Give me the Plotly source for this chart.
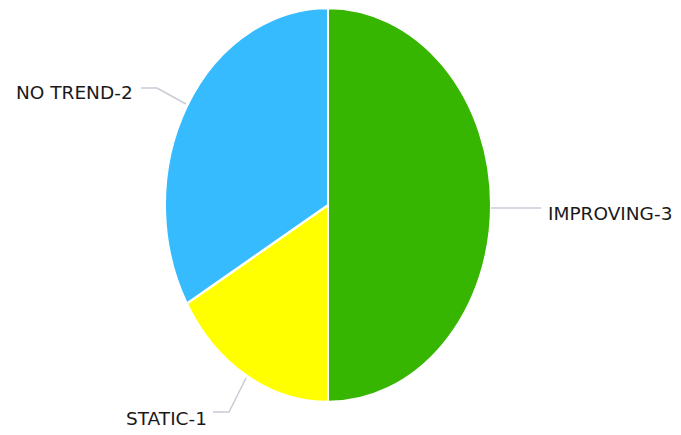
import plotly.graph_objects as go

W, H = 681, 435

labels = ["IMPROVING", "STATIC", "NO TREND"]
counts = [3, 1, 2]
colors = ["#36b600", "#ffff00", "#36bbff"]

# pie geometry in pixels (reference is stretched vertically)
CX, CY, RX, RY = 328, 205, 163, 197


def px(x):
    return x / W


def py(y):
    return 1 - y / H


fig = go.Figure(
    go.Pie(
        labels=labels,
        values=counts,
        sort=False,
        direction="clockwise",
        rotation=0,
        textinfo="none",
        hoverinfo="label+value",
        marker={"colors": colors, "line": {"color": "#ffffff", "width": 2}},
        domain={"x": [px(CX - RX), px(CX + RX)], "y": [py(CY + RX), py(CY - RX)]},
        showlegend=False,
    )
)

# outside labels with leader lines
label_spots = [
    # text, text anchor x, y, xanchor, leader path points
    (f"{labels[0]}-{counts[0]}", 546, 213, "left", [(491, 208), (541, 208)]),
    (f"{labels[2]}-{counts[2]}", 135, 93, "right", [(141, 88), (157, 88), (186, 104)]),
    (f"{labels[1]}-{counts[1]}", 209, 418, "right", [(213, 412), (229, 412), (246, 378)]),
]
for text, tx, ty, anchor, pts in label_spots:
    fig.add_annotation(
        x=px(tx), y=py(ty), xref="paper", yref="paper", text=text, showarrow=False,
        xanchor=anchor, yanchor="middle", font={"family": "DejaVu Sans", "size": 18.5, "color": "#1a1a1a"},
    )
    path = "M " + " L ".join(f"{px(x)},{py(y)}" for x, y in pts)
    fig.add_shape(type="path", path=path, xref="paper", yref="paper",
                  line={"color": "#c8ccd4", "width": 1.5})

fig.update_layout(
    width=W, height=H,
    margin={"l": 0, "r": 0, "t": 0, "b": 0},
    paper_bgcolor="#ffffff",
    plot_bgcolor="#ffffff",
)

squash = f"""
document.body.style.margin = '0';
var gd = document.getElementById('{{plot_id}}');
function squash() {{
  gd.querySelectorAll('.pielayer .trace').forEach(function (t) {{
    if (t.getAttribute('data-sq')) return;
    var b = t.getBBox();
    var cx = b.x + b.width / 2, cy = b.y + b.height / 2;
    t.setAttribute('transform', 'translate(' + cx + ',' + cy + ') scale(1,{RY / RX:.4f}) translate(' + (-cx) + ',' + (-cy) + ')');
    t.setAttribute('data-sq', '1');
  }});
}}
squash();
gd.on('plotly_afterplot', squash);
"""

fig.write_html("out.html", post_script=squash, config={"displayModeBar": False})
